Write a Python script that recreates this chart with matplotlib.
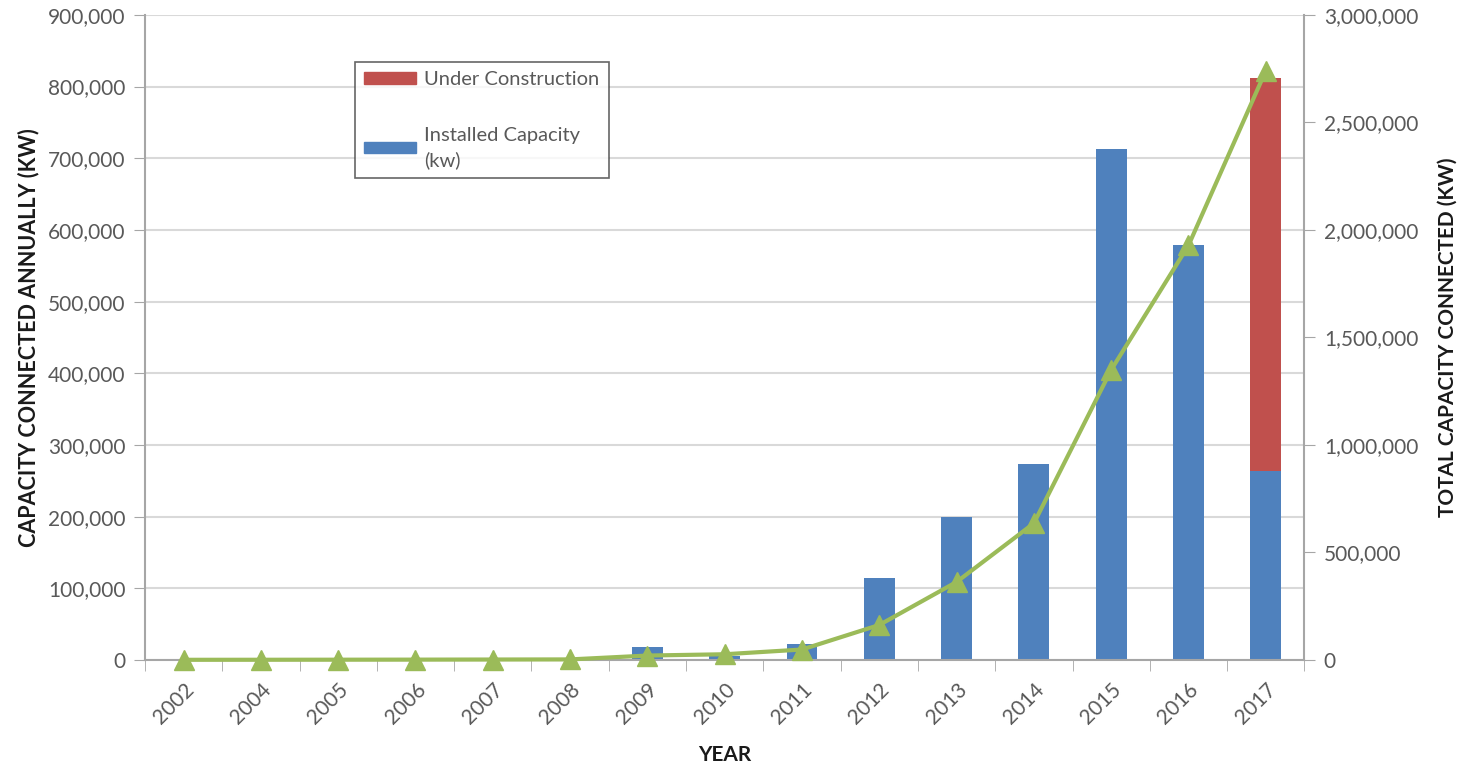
import matplotlib.pyplot as plt
from matplotlib.patches import Patch
from matplotlib.ticker import FuncFormatter
import numpy as np

years = ['2002', '2004', '2005', '2006', '2007', '2008', '2009', '2010',
         '2011', '2012', '2013', '2014', '2015', '2016', '2017']
installed = [1000, 200, 300, 300, 500, 500, 18000, 6000,
             22000, 114000, 200000, 273000, 713000, 579000, 264000]
under_construction = [0, 0, 0, 0, 0, 0, 0, 0,
                      0, 0, 0, 0, 0, 0, 548000]
total_connected = [1000, 1200, 1500, 1800, 2300, 2800, 20800, 26800,
                   48800, 163000, 363000, 636000, 1349000, 1928000, 2740000]

blue = '#4F81BD'
red = '#C0504D'
green = '#9BBB59'
grid_col = '#D9D9D9'
axis_col = '#A6A6A6'
text_col = '#595959'

plt.rcParams['font.family'] = ['Lato', 'DejaVu Sans']

fig = plt.figure(figsize=(14.64, 7.68), dpi=100)
ax = fig.add_axes([0.099, 0.1406, 0.792, 0.84])
x = np.arange(len(years))

ax.bar(x, installed, width=0.4, color=blue, zorder=2)
ax.bar(x, under_construction, width=0.4, bottom=installed, color=red, zorder=2)

ax.set_xlim(-0.5, len(years) - 0.5)
ax.set_ylim(0, 900000)
ax.set_yticks(np.arange(0, 900001, 100000))
ax.yaxis.set_major_formatter(FuncFormatter(lambda v, p: f'{int(v):,}'))
ax.grid(axis='y', color=grid_col, linewidth=1.5, zorder=0)
ax.set_axisbelow(True)

ax.set_xticks(x)
ax.set_xticklabels(years, rotation=45, ha='right', rotation_mode='anchor')
ax.set_xticks(np.arange(-0.5, len(years), 1), minor=True)
ax.tick_params(axis='x', which='major', length=0, pad=14, labelsize=15, labelcolor=text_col)
ax.tick_params(axis='x', which='minor', length=8, color=axis_col, direction='out')
ax.tick_params(axis='y', length=8, color=axis_col, labelsize=15, labelcolor=text_col, pad=6)

for s in ['top', 'right']:
    ax.spines[s].set_visible(False)
for s in ['left', 'bottom']:
    ax.spines[s].set_color(axis_col)
    ax.spines[s].set_linewidth(1.5)

ax.set_xlabel('YEAR', fontsize=15, fontweight='bold', color='#1a1a1a', labelpad=12)
ax.set_ylabel('CAPACITY CONNECTED ANNUALLY (KW)', fontsize=15.5, fontweight='bold',
              color='#1a1a1a', labelpad=6)

ax2 = ax.twinx()
ax2.plot(x, total_connected, color=green, linewidth=3, marker='^', markersize=14,
         zorder=3, clip_on=False)
ax2.set_ylim(0, 3000000)
ax2.set_yticks(np.arange(0, 3000001, 500000))
ax2.yaxis.set_major_formatter(FuncFormatter(lambda v, p: f'{int(v):,}'))
ax2.tick_params(axis='y', length=8, color=axis_col, labelsize=15, labelcolor=text_col, pad=6)
for s in ['top', 'left', 'bottom']:
    ax2.spines[s].set_visible(False)
ax2.spines['right'].set_color(axis_col)
ax2.spines['right'].set_linewidth(1.5)
ax2.set_ylabel('TOTAL CAPACITY CONNECTED (KW)', fontsize=15, fontweight='bold',
               color='#1a1a1a', labelpad=14)

handles = [Patch(color=red, label='Under Construction'),
           Patch(color=blue, label='Installed Capacity\n(kw)')]
leg = fig.legend(handles=handles, loc='upper left', bbox_to_anchor=(0.2425, 0.919),
                 fontsize=14.5, frameon=True, fancybox=False, edgecolor='#404040',
                 handlelength=2.6, handleheight=0.5, labelspacing=1.9,
                 borderpad=0.45, handletextpad=0.4, borderaxespad=0)
leg.get_frame().set_linewidth(1.2)
for t in leg.get_texts():
    t.set_color(text_col)
    t.set_linespacing(1.5)

fig.savefig('out.png', dpi=100)
